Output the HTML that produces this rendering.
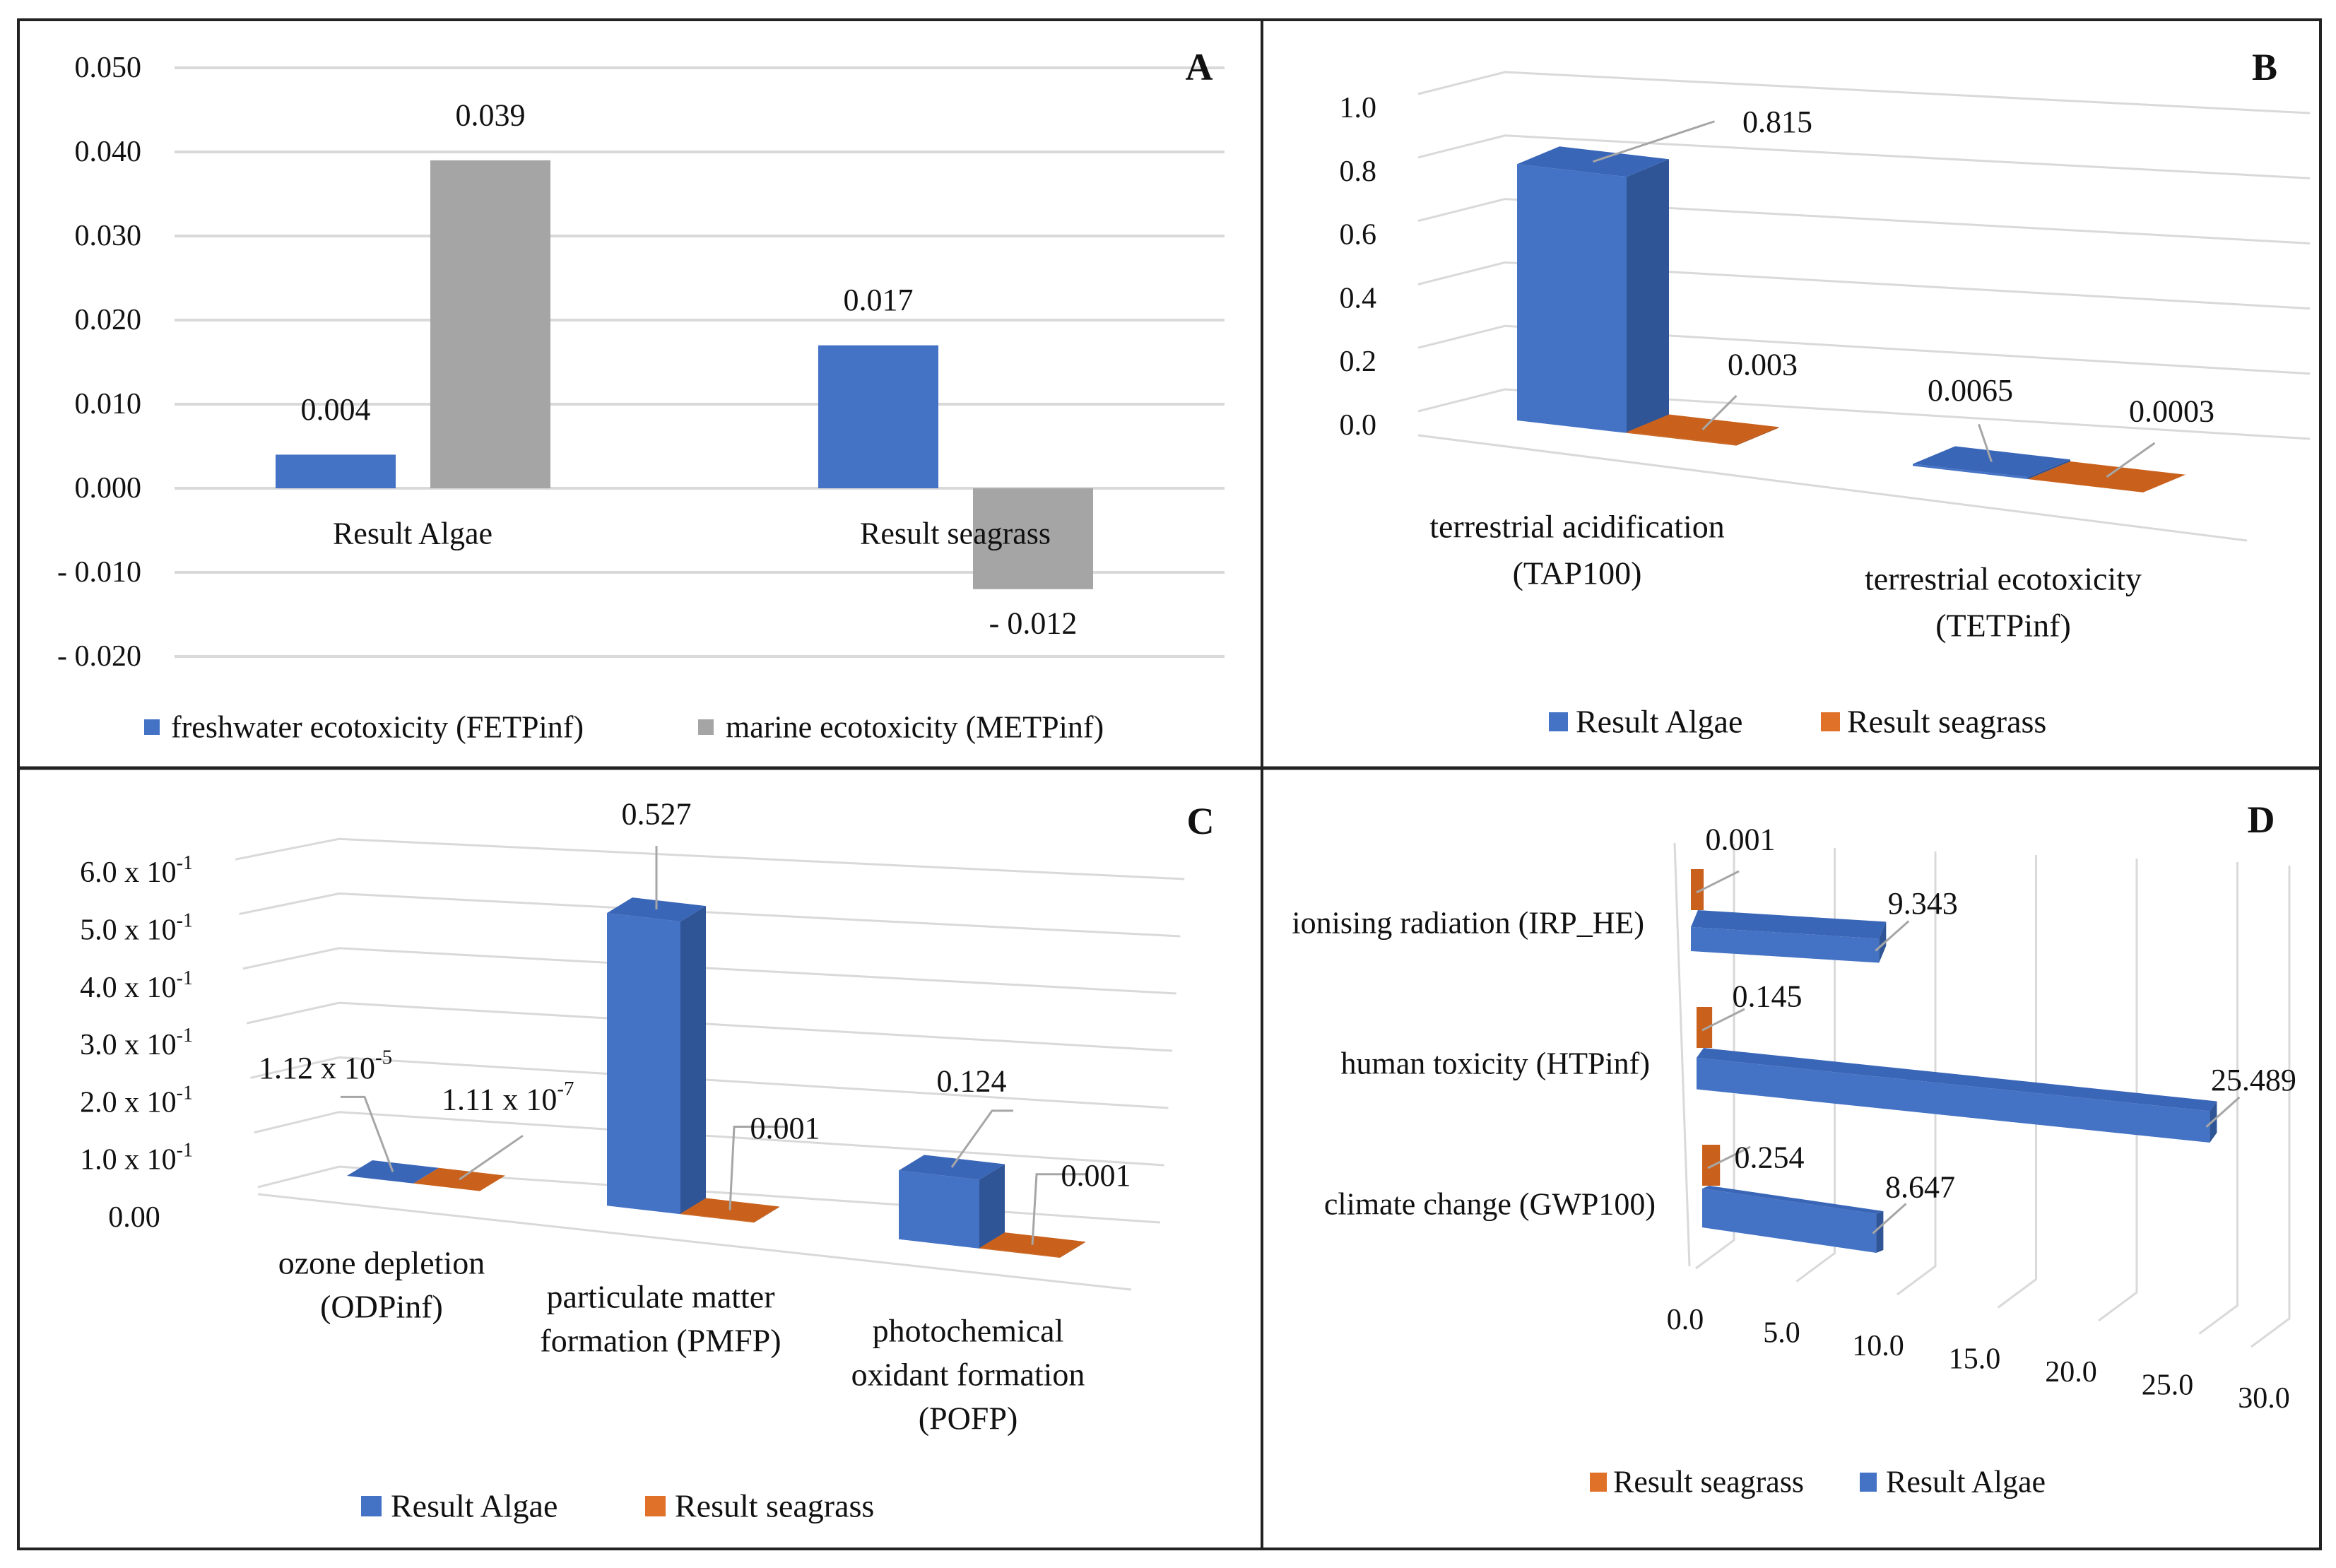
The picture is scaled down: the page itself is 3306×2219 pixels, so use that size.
<!DOCTYPE html>
<html><head><meta charset="utf-8"><style>
html,body{margin:0;padding:0;background:#fff}
svg{display:block}
text{font-family:"Liberation Serif",serif;fill:#111}
</style></head><body>
<svg id="chart" width="3306" height="2219" viewBox="0 0 3306 2219" xmlns="http://www.w3.org/2000/svg">
<rect x="0" y="0" width="3306" height="2219" fill="#fff"/>
<g id="gA"></g>
<g id="gB"></g>
<g id="gC"></g>
<g id="gD"></g>
<rect x="26" y="28" width="3258" height="2164" fill="none" stroke="#222" stroke-width="4"/>
<line x1="1786" y1="28" x2="1786" y2="2192" stroke="#222" stroke-width="4"/>
<line x1="26" y1="1087" x2="3284" y2="1087" stroke="#222" stroke-width="5"/>
</svg>
<script>
// ---------- DATA ----------
const aCategories = ['Result Algae', 'Result seagrass'];
const aFreshwater = [0.004, 0.017];
const aMarine = [0.039, -0.012];
const aFreshLabels = ['0.004', '0.017'];
const aMarineLabels = ['0.039', '- 0.012'];
const aTicks = [0.05, 0.04, 0.03, 0.02, 0.01, 0, -0.01, -0.02];
const aTickLabels = ['0.050', '0.040', '0.030', '0.020', '0.010', '0.000', '- 0.010', '- 0.020'];

const bCategories = [['terrestrial acidification', '(TAP100)'], ['terrestrial ecotoxicity', '(TETPinf)']];
const bAlgae = [0.815, 0.0065];
const bSeagrass = [0.003, 0.0003];
const bAlgaeLabels = ['0.815', '0.0065'];
const bSeagrassLabels = ['0.003', '0.0003'];
const bTicks = [0, 0.2, 0.4, 0.6, 0.8, 1.0];
const bTickLabels = ['0.0', '0.2', '0.4', '0.6', '0.8', '1.0'];

const cCategories = [['ozone depletion', '(ODPinf)'], ['particulate matter', 'formation (PMFP)'], ['photochemical', 'oxidant formation', '(POFP)']];
const cAlgae = [1.12e-5, 0.527, 0.124];
const cSeagrass = [1.11e-7, 0.001, 0.001];
const cAlgaeLabels = [['1.12 x 10', '-5'], ['0.527', ''], ['0.124', '']];
const cSeagrassLabels = [['1.11 x 10', '-7'], ['0.001', ''], ['0.001', '']];
const cTicks = [0, 0.1, 0.2, 0.3, 0.4, 0.5, 0.6];
const cTickLabels = ['0.00', '1.0 x 10', '2.0 x 10', '3.0 x 10', '4.0 x 10', '5.0 x 10', '6.0 x 10'];

const dCategories = ['ionising radiation (IRP_HE)', 'human toxicity (HTPinf)', 'climate change (GWP100)'];
const dAlgae = [9.343, 25.489, 8.647];
const dSeagrass = [0.001, 0.145, 0.254];
const dAlgaeLabels = ['9.343', '25.489', '8.647'];
const dSeagrassLabels = ['0.001', '0.145', '0.254'];
const dTicks = [0, 5, 10, 15, 20, 25, 30];
const dTickLabels = ['0.0', '5.0', '10.0', '15.0', '20.0', '25.0', '30.0'];

// ---------- HELPERS ----------
const NS = 'http://www.w3.org/2000/svg';
const BLUE = '#4472C4', BLUE_SIDE = '#2F5597', BLUE_TOP = '#3A66B8';
const ORANGE = '#C9611C', ORANGE_SIDE = '#A84F14', GRAY = '#A5A5A5', GRID = '#D9D9D9', LEAD = '#A6A6A6';
function mk(tag, attrs, parent) {
  const e = document.createElementNS(NS, tag);
  for (const k in attrs) e.setAttribute(k, attrs[k]);
  parent.appendChild(e);
  return e;
}
function tx(parent, x, y, s, size, anchor) {
  const e = mk('text', {x: x, y: y, 'font-size': size, 'text-anchor': anchor || 'middle', 'dominant-baseline': 'central'}, parent);
  e.textContent = s;
  return e;
}
function pts(a) { return a.map(p => p[0].toFixed(1) + ',' + p[1].toFixed(1)).join(' '); }

// ---------- PANEL A ----------
(function () {
  const g = document.getElementById('gA');
  const yA = v => 691 - v * 11900;
  const catX = i => 584 + i * 768;
  aTicks.forEach((t, i) => {
    const gl = mk('line', {x1: 247, x2: 1733, y1: yA(t), y2: yA(t), stroke: GRID, 'stroke-width': 4}, g);
    
    
    const tl = tx(g, 200, yA(t), aTickLabels[i], 42, 'end');
    
    
  });
  aCategories.forEach((c, i) => {
    const cx = catX(i);
    [[aFreshwater, aFreshLabels, BLUE, -194, 'freshwater'], [aMarine, aMarineLabels, GRAY, 25, 'marine']].forEach(s => {
      const v = s[0][i];
      const y0 = yA(0), y1 = yA(v);
      const bar = mk('rect', {x: cx + s[3], y: Math.min(y0, y1), width: 170, height: Math.abs(y1 - y0), fill: s[2]}, g);
      
      
      const ly = v >= 0 ? y1 - 64 : y1 + 48;
      const vl = tx(g, cx + s[3] + 85, ly, s[1][i], 44);
      
      
    });
    const cl = tx(g, cx, 755, c, 44);
    
    
  });
  const l1 = mk('rect', {x: 204, y: 1018, width: 22, height: 22, fill: BLUE}, g);
  
  
  const lt1 = tx(g, 242, 1029, 'freshwater ecotoxicity (FETPinf)', 44, 'start');
  
  
  const l2 = mk('rect', {x: 988, y: 1018, width: 22, height: 22, fill: GRAY}, g);
  
  
  const lt2 = tx(g, 1027, 1029, 'marine ecotoxicity (METPinf)', 44, 'start');
  
  
  const pl = tx(g, 1697, 95, 'A', 54);
  pl.setAttribute('font-weight', 'bold');
  
  
})();

// generic 3D column
function box3d(g, x, w, h, base, dx, dy, front, side, top, name) {
  const b1 = base(x), b2 = base(x + w);
  const grp = mk('g', {}, g);
  
  
  const f = mk('polygon', {points: pts([[x, b1], [x + w, b2], [x + w, b2 - h], [x, b1 - h]]), fill: front}, grp);
  
  
  const s = mk('polygon', {points: pts([[x + w, b2], [x + w + dx, b2 + dy], [x + w + dx, b2 + dy - h], [x + w, b2 - h]]), fill: side}, grp);
  
  
  const t = mk('polygon', {points: pts([[x, b1 - h], [x + w, b2 - h], [x + w + dx, b2 - h + dy], [x + dx, b1 - h + dy]]), fill: top}, grp);
  
  
  return [x + w / 2 + dx / 2, (b1 + b2) / 2 - h + dy / 2];
}

// ---------- PANEL B ----------
(function () {
  const g = document.getElementById('gB');
  const S = 445;
  const yL = v => 582 - 449 * v, yC = v => 551 - 449 * v, yR = v => 621 - 461 * v;
  bTicks.forEach((t, i) => {
    const gl = mk('polyline', {points: pts([[2007, yL(t)], [2130, yC(t)], [3269, yR(t)]]), fill: 'none', stroke: GRID, 'stroke-width': 3}, g);
    
    
    const tl = tx(g, 1948, yL(t) + 20, bTickLabels[i], 42, 'end');
    
    
  });
  const fl = mk('line', {x1: 2007, y1: 616, x2: 3180, y2: 765, stroke: GRID, 'stroke-width': 3}, g);
  
  
  const base = x => 595 + 0.115 * (x - 2147);
  // [leaderDx, leaderDy, labelDx, labelDy] relative to bar top centre
  const leadA = [[172, -57, 261, -56], [-18, -53, -30, -101]];
  const leadS = [[48, -48, 85, -92], [68, -48, 92, -93]];
  bCategories.forEach((c, i) => {
    const gx = 2147 + i * 560, w = 155 + i * 8;
    const pA = box3d(g, gx, w, bAlgae[i] * S, base, 60, -25, BLUE, BLUE_SIDE, BLUE_TOP, 'bar-algae-' + i);
    const pS = box3d(g, gx + w, w, bSeagrass[i] * S, base, 60, -25, ORANGE, ORANGE_SIDE, ORANGE, 'bar-seagrass-' + i);
    [[pA, leadA[i], bAlgaeLabels[i]], [pS, leadS[i], bSeagrassLabels[i]]].forEach(q => {
      const p = q[0], L = q[1];
      const ln = mk('line', {x1: p[0], y1: p[1], x2: p[0] + L[0], y2: p[1] + L[1], stroke: LEAD, 'stroke-width': 3}, g);
      
      
      const vl = tx(g, p[0] + L[2], p[1] + L[3], q[2], 44, 'middle');
      
      
    });
    c.forEach((line, k) => {
      const cl = tx(g, 2232 + i * 603, 745 + i * 74 + k * 66, line, 46);
      
      
    });
  });
  const l1 = mk('rect', {x: 2192, y: 1008, width: 27, height: 27, fill: BLUE}, g);
  
  
  const lt1 = tx(g, 2230, 1021, 'Result Algae', 46, 'start');
  
  
  const l2 = mk('rect', {x: 2577, y: 1008, width: 27, height: 27, fill: '#E07128'}, g);
  
  
  const lt2 = tx(g, 2614, 1021, 'Result seagrass', 46, 'start');
  
  
  const pl = tx(g, 3205, 95, 'B', 54);
  pl.setAttribute('font-weight', 'bold');
  
  
})();

// ---------- PANEL C ----------
(function () {
  const g = document.getElementById('gC');
  const S = 786;
  const xL = v => 365 - 53 * v, yL = v => 1680 - 773 * v, yC = v => 1651 - 773 * v;
  const xR = v => 1642 + 57 * v, yR = v => 1730 - 810 * v;
  cTicks.forEach((t, i) => {
    const gl = mk('polyline', {points: pts([[xL(t), yL(t)], [480, yC(t)], [xR(t), yR(t)]]), fill: 'none', stroke: GRID, 'stroke-width': 3}, g);
    
    
    const ty = 1723 - t * 813;
    let tl;
    if (t === 0) {
      tl = tx(g, 190, ty, cTickLabels[i], 42, 'middle');
    } else {
      tl = mk('text', {x: 273, y: ty, 'font-size': 42, 'text-anchor': 'end', 'dominant-baseline': 'central'}, g);
      tl.textContent = cTickLabels[i];
      const sp = mk('tspan', {'font-size': 28, dy: -14}, tl);
      sp.textContent = '-1';
    }
    
    
  });
  const fl = mk('line', {x1: 365, y1: 1690, x2: 1601, y2: 1825, stroke: GRID, 'stroke-width': 3}, g);
  
  
  const base = x => 1664 + 0.115 * (x - 491);
  const leadA = [[[-40, -106], [-34, -40]], [[0, -90], [0, -40]], [[57, -80], [30, -40]]];
  const leadS = [[[90, -62], [0, -40]], [[6, -118], [75, 0]], [[6, -100], [70, 0]]];
  const labA = [[-190, -147], [0, -135], [28, -122]];
  const labS = [[-25, -113], [78, -116], [90, -98]];
  cCategories.forEach((c, i) => {
    const gx = 491 + i * 368 + i * (i - 1) * 22.5, w = 94 + i * 10;
    const pA = box3d(g, gx, w, cAlgae[i] * S, base, 36, -22, BLUE, BLUE_SIDE, BLUE_TOP, 'bar-algae-' + i);
    const pS = box3d(g, gx + w, w, cSeagrass[i] * S, base, 36, -22, ORANGE, ORANGE_SIDE, ORANGE, 'bar-seagrass-' + i);
    [[pA, leadA[i], labA[i], cAlgaeLabels[i]], [pS, leadS[i], labS[i], cSeagrassLabels[i]]].forEach(q => {
      const p = q[0], L = q[1];
      const mid = [p[0] + L[0][0], p[1] + L[0][1]];
      const ln = mk('polyline', {points: pts([p, mid, [mid[0] + L[1][0], mid[1]]]), fill: 'none', stroke: LEAD, 'stroke-width': 3}, g);
      
      
      const vl = mk('text', {x: p[0] + q[2][0], y: p[1] + q[2][1], 'font-size': 44, 'text-anchor': q[3][1] ? 'start' : 'middle', 'dominant-baseline': 'central'}, g);
      vl.textContent = q[3][0];
      if (q[3][1]) {
        const sp = mk('tspan', {'font-size': 29, dy: -15}, vl);
        sp.textContent = q[3][1];
      }
      
      
    });
    c.forEach((line, k) => {
      const cl = tx(g, 540 + i * 395 + i * (i - 1) * 20, 1787 + i * 48 + k * 62, line, 46);
      
      
    });
  });
  const l1 = mk('rect', {x: 511, y: 2117, width: 29, height: 29, fill: BLUE}, g);
  
  
  const lt1 = tx(g, 553, 2131, 'Result Algae', 46, 'start');
  
  
  const l2 = mk('rect', {x: 913, y: 2117, width: 29, height: 29, fill: '#E07128'}, g);
  
  
  const lt2 = tx(g, 955, 2131, 'Result seagrass', 46, 'start');
  
  
  const pl = tx(g, 1699, 1162, 'C', 54);
  pl.setAttribute('font-weight', 'bold');
  
  
})();

// ---------- PANEL D ----------
(function () {
  const g = document.getElementById('gD');
  const xf = v => 2400 + 28.5 * v;
  const wall = mk('line', {x1: 2370, y1: 1193, x2: 2391, y2: 1792, stroke: GRID, 'stroke-width': 3}, g);
  
  
  dTicks.forEach((t, i) => {
    const xb = Math.min(xf(t) + 54, 3240), yb = 1755 + t * 3.7;
    const gl = mk('polyline', {points: pts([[xb, 1195 + t * 1.0], [xb, yb], [xb - 54, yb + 40]]), fill: 'none', stroke: GRID, 'stroke-width': 3}, g);
    
    
    const tl = tx(g, xf(t) - 15 - t * 1.2, 1868 + t * 3.7, dTickLabels[i], 42);
    
    
  });
  const labS = [[70, -42], [100, -15], [95, 18]];
  dCategories.forEach((c, i) => {
    const x0 = xf(0) - 7 + i * 8;
    const top = 1312 + i * 185, th = 34 + i * 10.5, sl = 0.062 + i * 0.042;
    const dx = 10, dy = -24 + i * 10;
    const sw = 18 + (xf(dSeagrass[i]) - xf(0));
    const sg = mk('rect', {x: x0, y: top + dy - 58, width: sw, height: 58, fill: ORANGE}, g);
    
    
    const sl1 = mk('line', {x1: x0 + 8, y1: top + dy - 25, x2: x0 + 68, y2: top + dy - 55, stroke: LEAD, 'stroke-width': 3}, g);
    
    
    const sv = tx(g, x0 + labS[i][0], top + dy - 58 + labS[i][1], dSeagrassLabels[i], 44);
    
    
    const x1 = x0 + (xf(dAlgae[i]) - xf(0));
    const t1 = top + sl * (x1 - x0);
    const grp = mk('g', {}, g);
    
    
    const tp = mk('polygon', {points: pts([[x0, top], [x1, t1], [x1 + dx, t1 + dy], [x0 + dx, top + dy]]), fill: BLUE_TOP}, grp);
    
    
    const fr = mk('polygon', {points: pts([[x0, top], [x1, t1], [x1, t1 + th], [x0, top + th]]), fill: BLUE}, grp);
    
    
    const en = mk('polygon', {points: pts([[x1, t1], [x1 + dx, t1 + dy], [x1 + dx, t1 + dy + th], [x1, t1 + th]]), fill: BLUE_SIDE}, grp);
    
    
    const ld = mk('line', {x1: x1 - 5, y1: t1 + th / 2, x2: x1 + 42, y2: t1 + th / 2 - 42, stroke: LEAD, 'stroke-width': 3}, g);
    
    
    const av = tx(g, x1 + 62, t1 - 50 + i * 6, dAlgaeLabels[i], 44);
    
    
    const cl = tx(g, 2327 + i * 8, 1306 + i * 199, c, 44, 'end');
    
    
  });
  const l1 = mk('rect', {x: 2250, y: 2084, width: 24, height: 27, fill: '#E07128'}, g);
  
  
  const lt1 = tx(g, 2283, 2097, 'Result seagrass', 44, 'start');
  
  
  const l2 = mk('rect', {x: 2632, y: 2084, width: 24, height: 27, fill: BLUE}, g);
  
  
  const lt2 = tx(g, 2669, 2097, 'Result Algae', 44, 'start');
  
  
  const pl = tx(g, 3200, 1160, 'D', 54);
  pl.setAttribute('font-weight', 'bold');
  
  
})();
</script>
</body></html>
